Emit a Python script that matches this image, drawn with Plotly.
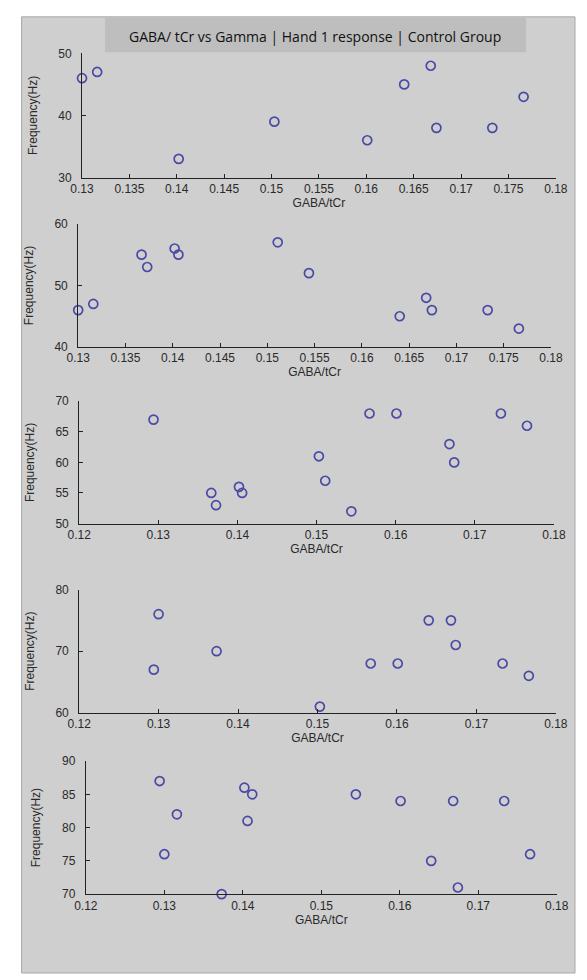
import plotly.graph_objects as go

# GABA/tCr ratio vs gamma peak frequency, one panel per response window
p1_gaba = [0.1300, 0.1316, 0.1402, 0.1503, 0.1601, 0.1640, 0.1668, 0.1674, 0.1733, 0.1766]
p1_freq = [46, 47, 33, 39, 36, 45, 48, 38, 38, 43]

p2_gaba = [0.1300, 0.1316, 0.1367, 0.1373, 0.1402, 0.1406, 0.1511, 0.1544, 0.1640, 0.1668, 0.1674, 0.1733, 0.1766]
p2_freq = [46, 47, 55, 53, 56, 55, 57, 52, 45, 48, 46, 46, 43]

p3_gaba = [0.1294, 0.1367, 0.1373, 0.1402, 0.1406, 0.1503, 0.1511, 0.1544, 0.1567, 0.1601, 0.1668, 0.1674, 0.1733, 0.1766]
p3_freq = [67, 55, 53, 56, 55, 61, 57, 52, 68, 68, 63, 60, 68, 66]

p4_gaba = [0.1300, 0.1294, 0.1373, 0.1503, 0.1567, 0.1601, 0.1640, 0.1668, 0.1674, 0.1733, 0.1766]
p4_freq = [76, 67, 70, 61, 68, 68, 75, 75, 71, 68, 66]

p5_gaba = [0.1294, 0.1300, 0.1316, 0.1373, 0.1402, 0.1412, 0.1406, 0.1544, 0.1601, 0.1640, 0.1668, 0.1674, 0.1733, 0.1766]
p5_freq = [87, 76, 82, 70, 86, 85, 81, 85, 84, 75, 84, 71, 84, 76]

x_ranges = [[0.13, 0.18], [0.13, 0.18], [0.12, 0.18], [0.12, 0.18], [0.12, 0.18]]
x_steps = [0.005, 0.005, 0.01, 0.01, 0.01]
y_ranges = [[30, 50], [40, 60], [50, 70], [60, 80], [70, 90]]
y_steps = [10, 10, 5, 10, 5]

title_text = "GABA/ tCr vs Gamma | Hand 1 response | Control Group"
x_label = "GABA/tCr"
y_label = "Frequency(Hz)"

W, H = 587, 980
# axes boxes in pixels: left, right, top, bottom
boxes = [
    (73, 567, 47, 173),
    (69, 562, 220, 345),
    (70, 565, 400, 524),
    (70, 567, 591, 716),
    (77, 568, 765, 900),
]

series = [(p1_gaba, p1_freq), (p2_gaba, p2_freq), (p3_gaba, p3_freq),
          (p4_gaba, p4_freq), (p5_gaba, p5_freq)]

fig = go.Figure()
tick_font = dict(family="Liberation Sans", size=12, color="#2a2a2a")
xtitle_font = dict(family="Liberation Sans", size=12, color="#2a2a2a")
ytitle_font = dict(family="Liberation Sans", size=12, color="#2a2a2a")

layout = dict(
    width=W, height=H,
    margin=dict(l=0, r=0, t=0, b=0),
    paper_bgcolor="white",
    plot_bgcolor="white",
    showlegend=False,
)

for i, ((gx, fy), (l, r, t, b)) in enumerate(zip(series, boxes)):
    n = "" if i == 0 else str(i + 1)
    fig.add_trace(go.Scatter(
        x=gx, y=fy, mode="markers",
        xaxis="x" + n, yaxis="y" + n,
        cliponaxis=False,
        marker=dict(symbol="circle-open", size=9,
                    line=dict(width=1.7, color="#4a4aa6"), color="#4a4aa6"),
    ))
    layout["xaxis" + n] = dict(
        domain=[l / W, r / W], anchor="y" + n,
        range=x_ranges[i], dtick=x_steps[i], tick0=0,
        showgrid=False, zeroline=False,
        showline=True, linecolor="#222", linewidth=1,
        ticks="inside", ticklen=4, tickcolor="#222",
        tickfont=tick_font, ticklabelstandoff=0,
        title=dict(text=x_label, font=xtitle_font, standoff=2),
    )
    layout["yaxis" + n] = dict(
        domain=[1 - b / H, 1 - t / H], anchor="x" + n,
        range=y_ranges[i], dtick=y_steps[i], tick0=0,
        showgrid=False, zeroline=False,
        showline=True, linecolor="#222", linewidth=1,
        ticks="inside", ticklen=4, tickcolor="#222",
        tickfont=tick_font, ticklabelstandoff=7,
        title=dict(text=y_label, font=ytitle_font, standoff=18),
    )

layout["shapes"] = [
    # figure window background
    dict(type="rect", xref="paper", yref="paper",
         x0=10 / W, x1=1.0, y0=0, y1=1 - 10 / H,
         fillcolor="#cfcfcf", line=dict(color="#a8a8a8", width=1), layer="below"),
    # title banner
    dict(type="rect", xref="paper", yref="paper",
         x0=97 / W, x1=536 / W, y0=1 - 46 / H, y1=1 - 11 / H,
         fillcolor="#bebebe", line=dict(width=0), layer="below"),
]
layout["annotations"] = [
    dict(text=title_text, xref="paper", yref="paper",
         x=316 / W, y=1 - 30 / H, xanchor="center", yanchor="middle",
         showarrow=False, font=dict(family="Open Sans", size=14, color="#111")),
]

fig.update_layout(**layout)
fig.write_html("out.html")
